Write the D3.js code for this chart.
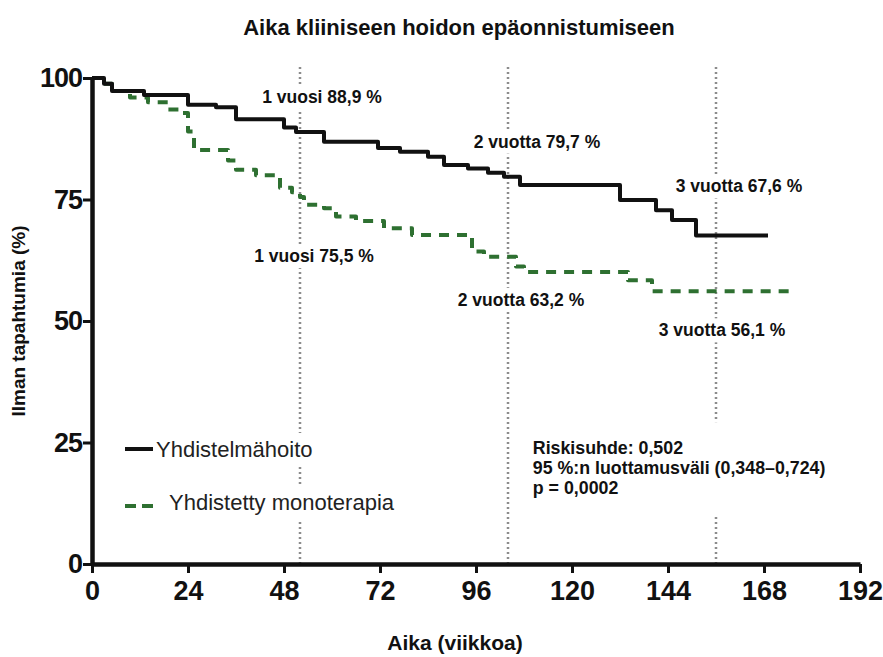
<!DOCTYPE html>
<html>
<head>
<meta charset="utf-8">
<script src="https://cdn.jsdelivr.net/npm/d3@7"></script>
<style>
  body { margin: 0; background: #fff; }
  svg { display: block; font-family: "Liberation Sans", Arial, sans-serif; }
</style>
</head>
<body>
<svg id="chart" width="883" height="657"></svg>
<script>
// --- data ---
const weekTicks = [0, 24, 48, 72, 96, 120, 144, 168, 192]
const percentTicks = [0, 25, 50, 75, 100]

// Yhdistelmähoito (solid black), step after each week
const comboWeeks = [0, 3, 5, 13, 24, 31, 36, 48, 51, 58, 71.5, 77, 84, 88, 94, 99, 103, 107, 132, 141, 145, 151, 169]
const comboSurvival = [100, 98.8, 97.3, 96.5, 94.5, 94.0, 91.5, 89.8, 88.9, 86.9, 85.6, 84.8, 83.8, 82.1, 81.4, 80.5, 79.7, 78.0, 74.9, 72.8, 70.8, 67.6, 67.6]

// Yhdistetty monoterapia (dashed green)
const monoWeeks = [0, 3, 5, 9.5, 14, 19, 22.5, 24, 25.5, 34, 36, 41, 47, 50, 52, 53, 58, 61, 66, 73, 80, 95, 98, 106, 108, 134, 140, 175]
const monoSurvival = [100, 98.8, 97.3, 96.0, 95.0, 93.5, 92.8, 89.0, 85.2, 83.0, 81.1, 80.0, 77.4, 76.5, 75.5, 73.9, 73.2, 71.5, 70.6, 69.1, 67.7, 64.3, 63.2, 61.2, 60.1, 58.4, 56.1, 56.1]

const milestoneWeeks = [52, 104, 156]
const comboMilestoneValues = [88.9, 79.7, 67.6]
const comboMilestoneLabels = ["1 vuosi 88,9 %", "2 vuotta 79,7 %", "3 vuotta 67,6 %"]
const monoMilestoneValues = [75.5, 63.2, 56.1]
const monoMilestoneLabels = ["1 vuosi 75,5 %", "2 vuotta 63,2 %", "3 vuotta 56,1 %"]

const seriesNames = ["Yhdistelmähoito", "Yhdistetty monoterapia"]
const statsLines = ["Riskisuhde: 0,502", "95 %:n luottamusväli (0,348–0,724)", "p = 0,0002"]

const titleText = "Aika kliiniseen hoidon epäonnistumiseen"
const xTitle = "Aika (viikkoa)"
const yTitle = "Ilman tapahtumia (%)"

// --- layout (pixel offsets of annotation text from the milestone point) ---
const comboLabelOffsets = [[22, -29], [29, -29], [23, -43]]
const monoLabelOffsets = [[14, 65], [13, 49], [6, 45]]

const black = "#111"
const green = "#2e7031"
const dotGrey = "#8c8c8c"

const initViz = ({ svg }) => {
  const width = 883
  const height = 657
  const margin = ({ top: 78, right: 23, bottom: 93, left: 92 })

  const x = d3.scaleLinear()
    .domain([0, 192])
    .range([margin.left, width - margin.right])

  const y = d3.scaleLinear()
    .domain([0, 100])
    .range([height - margin.bottom, margin.top])

  svg.append("rect").attr("width", width).attr("height", height).attr("fill", "#fff")

  // dotted milestone guides
  svg.append("g").attr("class", "g-guides")
    .selectAll("line")
    .data(milestoneWeeks)
    .enter()
    .append("line")
      .attr("x1", d => x(d))
      .attr("x2", d => x(d))
      .attr("y1", y(0))
      .attr("y2", y(102.5))
      .attr("stroke", dotGrey)
      .attr("stroke-width", 2.5)
      .attr("stroke-dasharray", "2,3")

  // text with a white box behind it, so the guides break around it
  const boxedText = (g, pad) => {
    g.each(function () {
      const b = this.getBBox()
      d3.select(this.parentNode).insert("rect", () => this)
        .attr("x", b.x - pad[0])
        .attr("y", b.y - pad[1])
        .attr("width", b.width + pad[0] * 2)
        .attr("height", b.height + pad[1] * 2)
        .attr("fill", "#fff")
    })
  }

  const labels = svg.append("g").attr("class", "g-labels")
    .attr("font-weight", "bold")
    .attr("font-size", 17.5)
    .attr("fill", black)

  const milestoneLabels = milestoneWeeks.flatMap((w, i) => [
    { week: w, value: comboMilestoneValues[i], text: comboMilestoneLabels[i], off: comboLabelOffsets[i] },
    { week: w, value: monoMilestoneValues[i], text: monoMilestoneLabels[i], off: monoLabelOffsets[i] }
  ])

  labels.selectAll("text")
    .data(milestoneLabels)
    .enter()
    .append("text")
      .attr("x", d => x(d.week) + d.off[0])
      .attr("y", d => y(d.value) + d.off[1])
      .attr("text-anchor", "middle")
      .text(d => d.text)
      .call(boxedText, [3, 2])

  // stats block
  const stats = svg.append("g").attr("class", "g-stats")
  const statsText = stats.append("text")
    .attr("x", x(110.2))
    .attr("y", y(22.6))
    .attr("font-weight", "bold")
    .attr("font-size", 17.8)
    .attr("fill", black)
  statsText.selectAll("tspan")
    .data(statsLines)
    .enter()
    .append("tspan")
      .attr("x", x(110.2))
      .attr("dy", (d, i) => i === 0 ? 0 : 20)
      .text(d => d)
  statsText.call(boxedText, [4, 16])

  // legend
  const legend = svg.append("g").attr("class", "g-legend")
  const legendRows = [
    { name: seriesNames[0], color: black, dash: null, ly: 449, ty: 457, tx: 156 },
    { name: seriesNames[1], color: green, dash: "11,6", ly: 506, ty: 510, tx: 169 }
  ]
  legend.selectAll("text")
    .data(legendRows)
    .enter()
    .append("text")
      .attr("x", d => d.tx)
      .attr("y", d => d.ty)
      .attr("font-size", 22)
      .attr("fill", "#222")
      .text(d => d.name)
      .call(boxedText, [2, 4])
  legend.selectAll("line")
    .data(legendRows)
    .enter()
    .append("line")
      .attr("x1", 125)
      .attr("x2", 153)
      .attr("y1", d => d.ly)
      .attr("y2", d => d.ly)
      .attr("stroke", d => d.color)
      .attr("stroke-width", 4)
      .attr("stroke-dasharray", d => d.dash)

  // survival curves
  const line = d3.line()
    .curve(d3.curveStepAfter)
    .x(d => x(d[0]))
    .y(d => y(d[1]))

  const curves = [
    { name: seriesNames[1], data: d3.zip(monoWeeks, monoSurvival), color: green, dash: "10,8" },
    { name: seriesNames[0], data: d3.zip(comboWeeks, comboSurvival), color: black, dash: null }
  ]

  svg.append("g").attr("class", "g-lines")
    .selectAll("path")
    .data(curves)
    .enter()
    .append("path")
      .attr("d", d => line(d.data))
      .attr("fill", "none")
      .attr("stroke", d => d.color)
      .attr("stroke-width", 4)
      .attr("stroke-dasharray", d => d.dash)
      .attr("stroke-linejoin", "round")

  // axes
  const xAxis = g => g
    .attr("transform", `translate(0,${y(0)})`)
    .call(d3.axisBottom(x).tickValues(weekTicks).tickSize(9).tickPadding(8).tickSizeOuter(0))
    .call(g => g.select(".domain").attr("stroke-width", 4.5).attr("stroke", black))
    .call(g => g.selectAll(".tick line").attr("stroke-width", 3).attr("stroke", black))
    .call(g => g.selectAll(".tick text")
      .attr("font-size", 27).attr("font-weight", "bold").attr("fill", black)
      .attr("font-family", "'Liberation Sans', Arial, sans-serif"))

  const yAxis = g => g
    .attr("transform", `translate(${x(0)},0)`)
    .call(d3.axisLeft(y).tickValues(percentTicks).tickSize(9).tickPadding(1).tickSizeOuter(0))
    .call(g => g.select(".domain").attr("stroke-width", 4.5).attr("stroke", black))
    .call(g => g.selectAll(".tick line").attr("stroke-width", 3).attr("stroke", black))
    .call(g => g.selectAll(".tick text")
      .attr("font-size", 27).attr("font-weight", "bold").attr("fill", black)
      .attr("letter-spacing", -1)
      .attr("font-family", "'Liberation Sans', Arial, sans-serif"))

  svg.append("g").call(xAxis)
  svg.append("g").call(yAxis)

  // titles
  svg.append("text")
    .attr("x", 459)
    .attr("y", 35)
    .attr("text-anchor", "middle")
    .attr("font-weight", "bold")
    .attr("font-size", 22)
    .attr("fill", black)
    .text(titleText)

  svg.append("text")
    .attr("x", (x(0) + x(192)) / 2 - 21)
    .attr("y", 650)
    .attr("text-anchor", "middle")
    .attr("font-weight", "bold")
    .attr("font-size", 21)
    .attr("fill", black)
    .text(xTitle)

  svg.append("text")
    .attr("transform", `translate(25,${y(50)}) rotate(-90)`)
    .attr("text-anchor", "middle")
    .attr("font-weight", "bold")
    .attr("font-size", 19)
    .attr("fill", black)
    .text(yTitle)
}

(() => {
  const svg = d3.select("#chart")
  initViz({ svg })
})();
</script>
</body>
</html>
